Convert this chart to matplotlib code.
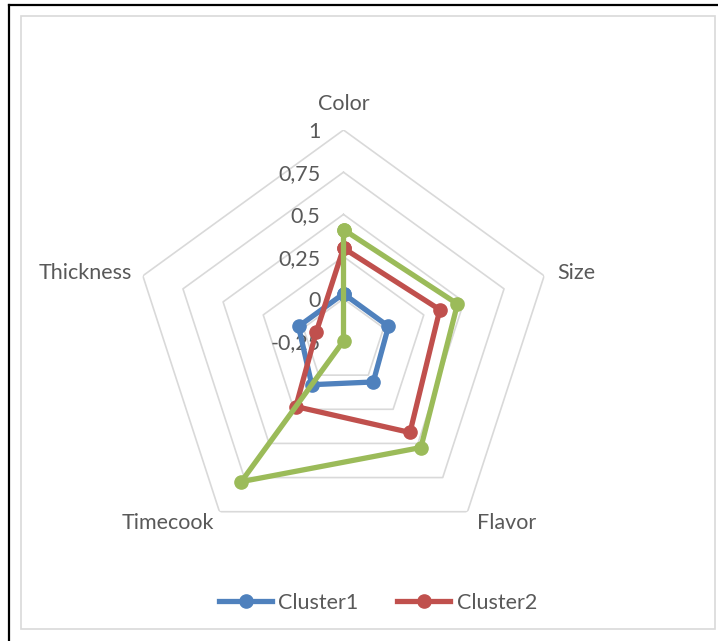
import numpy as np
import matplotlib
matplotlib.use('Agg')
import matplotlib.pyplot as plt
from matplotlib.lines import Line2D
from matplotlib.patches import Rectangle

plt.rcParams['font.family'] = ['Lato', 'DejaVu Sans']

# Cluster profiles
categories = ['Color', 'Size', 'Flavor', 'Timecook', 'Thickness']
cluster1 = [0.03, 0.03, 0.05, 0.07, 0.03]
cluster2 = [0.30, 0.35, 0.42, 0.23, -0.08]
cluster3 = [0.41, 0.46, 0.53, 0.78, -0.25]
ring_values = [0, 0.25, 0.5, 0.75, 1]
tick_values = [1, 0.75, 0.5, 0.25, 0, -0.25]
tick_labels = ['1', '0,75', '0,5', '0,25', '0', '-0,25']

text_color = '#595959'
grid_color = '#D9D9D9'
colors = ['#4F81BD', '#C0504D', '#9BBB59']

W, H = 718, 641
fig = plt.figure(figsize=(W / 100, H / 100), dpi=100)

# outer frame: black top/left edge plus light chart-area border
fig.add_artist(Line2D([8.5 / W, 1], [1 - 4.5 / H] * 2, color='black', lw=1.6,
                      transform=fig.transFigure))
fig.add_artist(Line2D([8.5 / W] * 2, [0, 1 - 4.5 / H], color='black', lw=1.6,
                      transform=fig.transFigure))
fig.add_artist(Rectangle((21 / W, 1 - 629 / H), (715 - 21) / W, (629 - 16) / H,
                         fill=False, ec=grid_color, lw=1.2,
                         transform=fig.transFigure))

cx, cy, R = 343.5, 341, 211
ax = fig.add_axes([(cx - R) / W, (H - cy - R) / H, 2 * R / W, 2 * R / H],
                  projection='polar')
ax.set_theta_offset(np.pi / 2)
ax.set_theta_direction(-1)
ax.set_ylim(-0.25, 1)
ax.grid(False)
ax.spines['polar'].set_visible(False)
ax.set_xticks([])
ax.set_yticks([])
ax.patch.set_alpha(0)

n = len(categories)
angles = np.linspace(0, 2 * np.pi, n, endpoint=False)
closed = np.append(angles, angles[0])

# pentagon gridlines
for v in ring_values:
    ax.plot(closed, [v] * (n + 1), color=grid_color, lw=1.2, zorder=1)

# value labels along the first axis
for v, lab in zip(tick_values, tick_labels):
    ax.annotate(lab, xy=(0, v), xytext=(-23, -2), textcoords='offset pixels',
                ha='right', va='center', fontsize=15.5, color=text_color)

# category labels around the outer ring
offsets = [((0, 26), 'center', 'center'),
           ((13, 3), 'left', 'center'),
           ((9, -11), 'left', 'center'),
           ((-5, -11), 'right', 'center'),
           ((-11, 3), 'right', 'center')]
for ang, lab, (off, ha, va) in zip(angles, categories, offsets):
    ax.annotate(lab, xy=(ang, 1), xytext=off, textcoords='offset pixels',
                ha=ha, va=va, fontsize=15.5, color=text_color)

series = [('Cluster1', cluster1), ('Cluster2', cluster2), ('Cluster3', cluster3)]
handles = []
for (name, vals), c in zip(series, colors):
    line, = ax.plot(closed, vals + vals[:1], color=c, lw=3.8, marker='o',
                    markersize=9.5, solid_joinstyle='round', zorder=3,
                    label=name, clip_on=False)
    handles.append(line)

leg = fig.legend(handles=handles[:2], loc='center', ncol=2,
                 bbox_to_anchor=(378 / W, 1 - 603 / H), frameon=False,
                 fontsize=15.5, handlelength=2.45, handletextpad=0.3,
                 columnspacing=1.8)
for t in leg.get_texts():
    t.set_color(text_color)

fig.savefig('out.png', dpi=100)
